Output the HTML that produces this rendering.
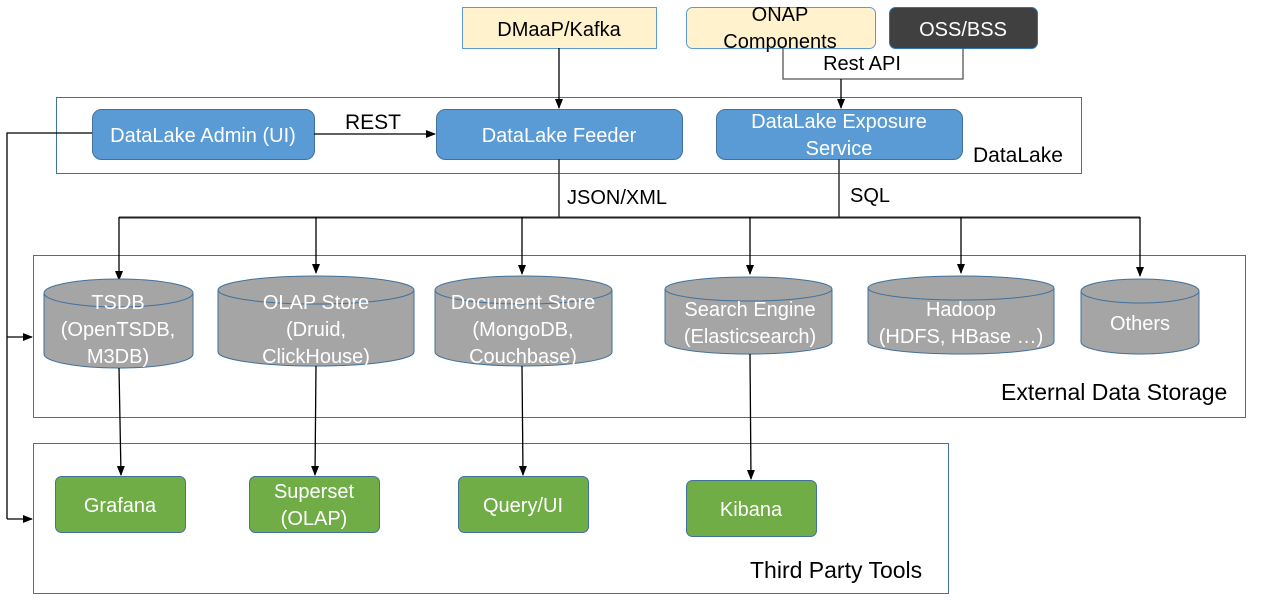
<!DOCTYPE html>
<html><head><meta charset="utf-8"><style>
body{margin:0;background:#fff}
svg{display:block;font-family:"Liberation Sans",sans-serif}
</style></head><body>
<svg width="1263" height="603" viewBox="0 0 1263 603" xmlns="http://www.w3.org/2000/svg">
<defs><marker id="a" markerWidth="10" markerHeight="10" refX="9" refY="5" orient="auto" markerUnits="userSpaceOnUse"><path d="M0,1 L10,5 L0,9 z" fill="#000"/></marker></defs>
<!-- frames -->
<rect x="56.5" y="97.5" width="1025" height="76" fill="none" stroke="#41719c"/>
<rect x="33.5" y="255.5" width="1212" height="162" fill="none" stroke="#41719c"/>
<rect x="33.5" y="443.5" width="915" height="150" fill="none" stroke="#41719c"/>
<!-- top boxes -->
<rect x="462.5" y="7.5" width="194" height="41" fill="#fff2cc" stroke="#5b9bd5"/>
<text x="559" y="36" font-size="20" text-anchor="middle">DMaaP/Kafka</text>
<rect x="686.5" y="7.5" width="189" height="41" rx="6" fill="#fff2cc" stroke="#5b9bd5"/>
<text x="780" y="21" font-size="20" text-anchor="middle">ONAP</text>
<text x="780" y="48" font-size="20" text-anchor="middle">Components</text>
<rect x="889.5" y="7.5" width="148" height="41" rx="6" fill="#404040" stroke="#2e75b6"/>
<text x="963" y="36" font-size="20" text-anchor="middle" fill="#fff">OSS/BSS</text>
<path d="M783,48 V79 H963 V48" fill="none" stroke="#555" stroke-width="1.3"/>
<text x="862" y="70" font-size="20" text-anchor="middle">Rest API</text>
<line x1="841" y1="79" x2="841" y2="108" stroke="#000" stroke-width="1.3" marker-end="url(#a)"/>
<line x1="559" y1="48" x2="559" y2="108" stroke="#000" stroke-width="1.3" marker-end="url(#a)"/>
<!-- datalake boxes -->
<rect x="92.5" y="109.5" width="222" height="50" rx="9" fill="#5b9bd5" stroke="#41719c"/>
<text x="203" y="142" font-size="20" text-anchor="middle" fill="#fff">DataLake Admin (UI)</text>
<rect x="436.5" y="109.5" width="246" height="50" rx="9" fill="#5b9bd5" stroke="#41719c"/>
<text x="559" y="142" font-size="20" text-anchor="middle" fill="#fff">DataLake Feeder</text>
<rect x="716.5" y="109.5" width="246" height="50" rx="9" fill="#5b9bd5" stroke="#41719c"/>
<text x="839" y="128" font-size="20" text-anchor="middle" fill="#fff">DataLake  Exposure</text>
<text x="839" y="155" font-size="20" text-anchor="middle" fill="#fff">Service</text>
<text x="973" y="162" font-size="21">DataLake</text>
<line x1="314" y1="134" x2="435" y2="134" stroke="#000" stroke-width="1.3" marker-end="url(#a)"/>
<text x="345" y="129" font-size="21">REST</text>
<!-- left feedback -->
<path d="M92,133 H7 V519" fill="none" stroke="#000" stroke-width="1.3"/>
<line x1="7" y1="337" x2="32" y2="337" stroke="#000" stroke-width="1.3" marker-end="url(#a)"/>
<line x1="7" y1="519" x2="32" y2="519" stroke="#000" stroke-width="1.3" marker-end="url(#a)"/>
<!-- bus -->
<path d="M559,159 V217 M839,159 V217" stroke="#333" stroke-width="1.5"/>
<line x1="119" y1="217.5" x2="1140" y2="217.5" stroke="#222" stroke-width="2"/>
<text x="567" y="204" font-size="20">JSON/XML</text>
<text x="850" y="202" font-size="20">SQL</text>
<g stroke="#000" stroke-width="1.3" marker-end="url(#a)">
<line x1="119" y1="217" x2="119" y2="280"/>
<line x1="316" y1="217" x2="316" y2="273"/>
<line x1="522" y1="217" x2="522" y2="274"/>
<line x1="750" y1="217" x2="750" y2="274"/>
<line x1="961" y1="217" x2="961" y2="273"/>
<line x1="1140" y1="217" x2="1140" y2="276"/>
</g>
<!-- cylinders -->
<g fill="#a5a5a5" stroke="#41719c" stroke-width="1">
<path d="M44,293 A74.5,14 0 0 1 193,293 V354 A74.5,14 0 0 1 44,354 Z"/><path d="M44,293 A74.5,14 0 0 0 193,293" fill="none"/>
<path d="M218,290 A98,14 0 0 1 414,290 V352 A98,14 0 0 1 218,352 Z"/><path d="M218,290 A98,14 0 0 0 414,290" fill="none"/>
<path d="M435,290 A88.5,14 0 0 1 612,290 V352 A88.5,14 0 0 1 435,352 Z"/><path d="M435,290 A88.5,14 0 0 0 612,290" fill="none"/>
<path d="M665,289 A83.5,12 0 0 1 832,289 V342 A83.5,12 0 0 1 665,342 Z"/><path d="M665,289 A83.5,12 0 0 0 832,289" fill="none"/>
<path d="M868,288 A93,12 0 0 1 1054,288 V342 A93,12 0 0 1 868,342 Z"/><path d="M868,288 A93,12 0 0 0 1054,288" fill="none"/>
<path d="M1081,291 A59,12 0 0 1 1199,291 V342 A59,12 0 0 1 1081,342 Z"/><path d="M1081,291 A59,12 0 0 0 1199,291" fill="none"/>
</g>
<g fill="#fff" font-size="20" text-anchor="middle">
<text x="118" y="309">TSDB</text><text x="118" y="336">(OpenTSDB,</text><text x="118" y="363">M3DB)</text>
<text x="316" y="309">OLAP Store</text><text x="316" y="336">(Druid,</text><text x="316" y="363">ClickHouse)</text>
<text x="523" y="309">Document Store</text><text x="523" y="336">(MongoDB,</text><text x="523" y="363">Couchbase)</text>
<text x="750" y="316">Search Engine</text><text x="750" y="343">(Elasticsearch)</text>
<text x="961" y="316">Hadoop</text><text x="961" y="343">(HDFS, HBase …)</text>
<text x="1140" y="330">Others</text>
</g>
<text x="1001" y="400" font-size="23">External Data Storage</text>
<!-- down links -->
<g stroke="#000" stroke-width="1.3" marker-end="url(#a)">
<line x1="119" y1="368" x2="121" y2="475"/>
<line x1="316" y1="366" x2="315" y2="475"/>
<line x1="522" y1="366" x2="523" y2="475"/>
<line x1="750" y1="354" x2="751" y2="479"/>
</g>
<!-- green -->
<g fill="#70ad47" stroke="#41719c">
<rect x="55.5" y="476.5" width="130" height="56" rx="6"/>
<rect x="249.5" y="476.5" width="130" height="56" rx="6"/>
<rect x="458.5" y="476.5" width="130" height="56" rx="6"/>
<rect x="686.5" y="480.5" width="130" height="56" rx="6"/>
</g>
<g fill="#fff" font-size="20" text-anchor="middle">
<text x="120" y="512">Grafana</text>
<text x="314" y="498">Superset</text><text x="314" y="525">(OLAP)</text>
<text x="523" y="512">Query/UI</text>
<text x="751" y="516">Kibana</text>
</g>
<text x="750" y="578" font-size="23">Third Party Tools</text>
</svg>
</body></html>
